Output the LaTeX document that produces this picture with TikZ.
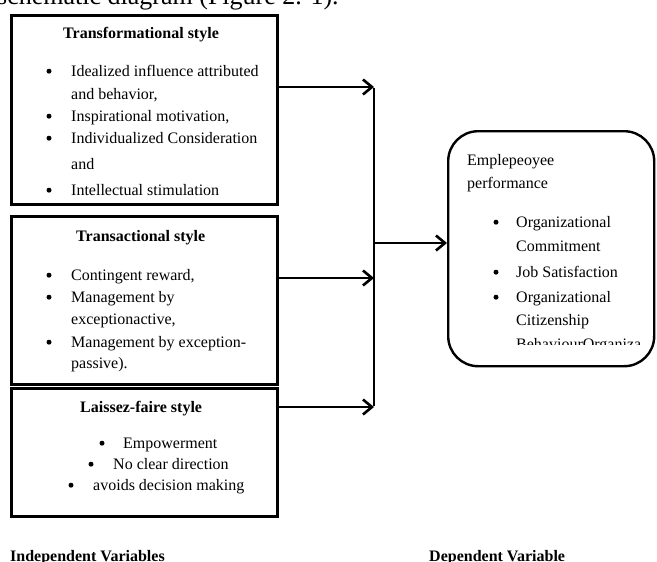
\documentclass[tikz,border=0pt]{standalone}
\usepackage{fontspec}
\setmainfont{Liberation Serif}
\usetikzlibrary{arrows.meta}
\begin{document}
\begin{tikzpicture}[x=1pt,y=-1pt,
  box/.style={draw, line width=2.6pt, rectangle, anchor=north west, inner sep=0pt},
  rbox/.style={draw, line width=2.4pt, rectangle, rounded corners=30pt, anchor=north west, inner sep=0pt},
  txt/.style={anchor=base west, inner sep=0pt, font=\fontsize{16}{19}\selectfont},
  ttl/.style={anchor=base west, inner sep=0pt, font=\fontsize{16}{19}\selectfont\bfseries},
  bul/.style={circle, fill=black, inner sep=0pt, minimum size=5pt, yshift=4.8pt},
  conn/.style={line width=2.4pt, -{Straight Barb[length=9pt,width=15pt,line width=2.6pt]}},
  vline/.style={line width=2.2pt}
]
\useasboundingbox (0,0) rectangle (657,562);

% partially visible caption at the top
\node[anchor=base west, inner sep=0pt, font=\fontsize{26}{30}\selectfont] (cap) at (-3,4.5) {schematic diagram (Figure 2. 1).};

% boxes
\node[box, minimum width=266pt, minimum height=189pt] (b1) at (10,14) {};
\node[box, minimum width=266pt, minimum height=168pt] (b2) at (10,215) {};
\node[box, minimum width=266pt, minimum height=128pt] (b3) at (10,387) {};
\node[rbox, minimum width=206pt, minimum height=235pt] (perf) at (447,130) {};

% box 1
\node[ttl] (t1) at (63,38) {Transformational style};
\node[bul] (d11) at (49,76) {};
\node[txt] (l11) at (71,76) {Idealized influence attributed};
\node[txt] (l12) at (71,99) {and behavior,};
\node[bul] (d12) at (49,121) {};
\node[txt] (l13) at (71,121) {Inspirational motivation,};
\node[bul] (d13) at (49,143) {};
\node[txt] (l14) at (71,143) {Individualized Consideration};
\node[txt] (l15) at (71,169) {and};
\node[bul] (d14) at (49,195) {};
\node[txt] (l16) at (71,195) {Intellectual stimulation};

% box 2
\node[ttl] (t2) at (76,241) {Transactional style};
\node[bul] (d21) at (49,280) {};
\node[txt] (l21) at (71,280) {Contingent reward,};
\node[bul] (d22) at (49,302) {};
\node[txt] (l22) at (71,302) {Management by};
\node[txt] (l23) at (71,324) {exceptionactive,};
\node[bul] (d23) at (49,347) {};
\node[txt] (l24) at (71,347) {Management by exception-};
\node[txt] (l25) at (71,368) {passive).};

% box 3
\node[ttl] (t3) at (80,412) {Laissez-faire style};
\node[bul] (d31) at (102,448) {};
\node[txt] (l31) at (123,448) {Empowerment};
\node[bul] (d32) at (91,469) {};
\node[txt] (l32) at (113,469) {No clear direction};
\node[bul] (d33) at (71,490) {};
\node[txt] (l33) at (93,490) {avoids decision making};

% dependent box text
\node[txt] (p1) at (467,165) {Emplepeoyee};
\node[txt] (p2) at (467,188) {performance};
\node[bul] (e1) at (496,227) {};
\node[txt] (q1) at (516,227) {Organizational};
\node[txt] (q2) at (516,251) {Commitment};
\node[bul] (e2) at (496,277) {};
\node[txt] (q3) at (516,277) {Job Satisfaction};
\node[bul] (e3) at (496,302) {};
\node[txt] (q4) at (516,302) {Organizational};
\node[txt] (q5) at (516,325) {Citizenship};
\begin{scope}
  \clip (450,330) rectangle (650,344.5);
  \node[txt] (q6) at (516,349) {BehaviourOrganiza};
\end{scope}

% connectors
\coordinate (j1) at (374,87);
\coordinate (j2) at (374,278);
\coordinate (j3) at (374,407);
\coordinate (jm) at (374,243);
\draw[conn] (b1.east |- j1) -- (j1);
\draw[conn] (b2.east |- j2) -- (j2);
\draw[conn] (b3.east |- j3) -- (j3);
\draw[vline] ([yshift=-1.2pt]j1) -- ([yshift=1.2pt]j3);
\draw[conn] (jm) -- (perf.west |- jm);

% bottom labels
\node[ttl] (iv) at (10,561) {Independent Variables};
\node[ttl] (dv) at (429,561) {Dependent Variable};
\end{tikzpicture}
\end{document}
